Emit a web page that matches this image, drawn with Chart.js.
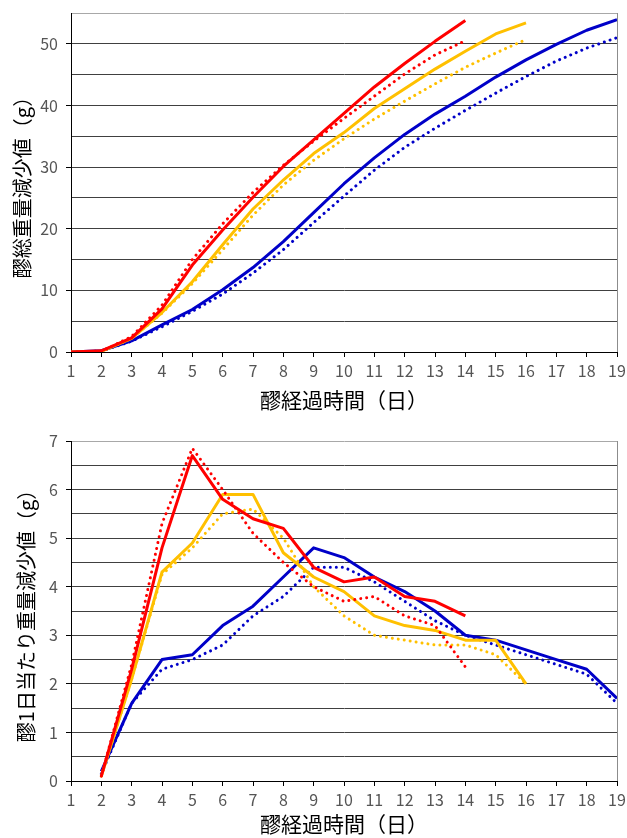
<!DOCTYPE html>
<html>
<head>
<meta charset="utf-8">
<script src="https://cdn.jsdelivr.net/npm/chart.js@4"></script>
<style>
  html, body { margin: 0; padding: 0; background: #fff; }
  #wrap { position: relative; width: 627px; height: 838px; }
  .box { position: absolute; left: 0; width: 627px; }
</style>
</head>
<body>
<div id="wrap">
  <div class="box" style="top:0;height:420px"><canvas id="total"></canvas></div>
  <div class="box" style="top:420px;height:418px"><canvas id="daily"></canvas></div>
</div>
<script>
// Elapsed days of the mash (醪)
const daysRed = [1, 2, 3, 4, 5, 6, 7, 8, 9, 10, 11, 12, 13, 14];
const daysYellow = [1, 2, 3, 4, 5, 6, 7, 8, 9, 10, 11, 12, 13, 14, 15, 16];
const daysBlue = [1, 2, 3, 4, 5, 6, 7, 8, 9, 10, 11, 12, 13, 14, 15, 16, 17, 18, 19];

// Cumulative weight loss (g)
const totalRedSolid = [0, 0.2, 2.3, 7.0, 14.1, 19.8, 25.1, 30.1, 34.4, 38.7, 43.0, 46.8, 50.4, 53.8];
const totalRedDotted = [0, 0.1, 2.5, 7.6, 15.0, 20.8, 25.9, 30.3, 34.2, 37.9, 41.5, 45.1, 48.2, 50.5];
const totalYellowSolid = [0, 0.1, 2.2, 6.4, 11.4, 17.4, 23.2, 27.9, 32.2, 35.6, 39.5, 42.7, 45.9, 48.8, 51.6, 53.4];
const totalYellowDotted = [0, 0.1, 2.2, 6.3, 11.1, 16.6, 22.2, 27.1, 31.1, 34.6, 37.8, 40.7, 43.5, 46.2, 48.5, 50.7];
const totalBlueSolid = [0, 0.2, 1.8, 4.4, 6.9, 10.1, 13.7, 17.9, 22.6, 27.3, 31.5, 35.3, 38.6, 41.5, 44.6, 47.4, 49.9, 52.2, 53.9];
const totalBlueDotted = [0, 0.15, 1.75, 4.1, 6.6, 9.4, 12.8, 16.6, 21.0, 25.3, 29.5, 33.2, 36.3, 39.2, 42.0, 44.7, 47.2, 49.3, 51.0];

// Weight loss per day (g), starting on day 2
const dailyRedSolid = [0.1, 2.3, 4.8, 6.7, 5.8, 5.4, 5.2, 4.4, 4.1, 4.2, 3.8, 3.7, 3.4];
const dailyRedDotted = [0.1, 2.4, 5.3, 6.85, 6.0, 5.1, 4.5, 4.0, 3.7, 3.8, 3.4, 3.2, 2.35];
const dailyYellowSolid = [0.1, 2.1, 4.3, 4.9, 5.9, 5.9, 4.7, 4.2, 3.9, 3.4, 3.2, 3.1, 2.9, 2.9, 2.0];
const dailyYellowDotted = [0.1, 2.1, 4.25, 4.8, 5.5, 5.6, 5.0, 4.0, 3.4, 3.0, 2.9, 2.8, 2.8, 2.6, 2.0];
const dailyBlueSolid = [0.2, 1.6, 2.5, 2.6, 3.2, 3.6, 4.2, 4.8, 4.6, 4.2, 3.9, 3.5, 3.0, 2.9, 2.7, 2.5, 2.3, 1.7];
const dailyBlueDotted = [0.15, 1.6, 2.3, 2.5, 2.8, 3.4, 3.8, 4.4, 4.4, 4.1, 3.7, 3.3, 3.0, 2.8, 2.6, 2.4, 2.2, 1.6];

// Axis labels
const xTitle = '醪経過時間（日）';
const totalTitle = '醪総重量減少値（g）';
const dailyTitle = '醪1日当たり重量減少値（g）';

const RED = '#ff0000';
const YELLOW = '#ffc000';
const BLUE = '#0000c8';

Chart.defaults.font.family = "'Noto Sans CJK JP', 'Noto Sans', sans-serif";
Chart.defaults.animation = false;

function pts(days, vals, offset) {
  return vals.map((v, i) => ({ x: days[i + offset], y: v }));
}

function series(days, vals, offset, color, dotted) {
  return {
    data: pts(days, vals, offset),
    borderColor: color,
    borderWidth: 3,
    borderDash: dotted ? [0.01, 6] : [],
    borderCapStyle: dotted ? 'round' : 'butt',
    borderJoinStyle: 'round',
    pointRadius: 0,
    tension: 0,
    fill: false
  };
}

// Thin grey frame on the right side of the plot area
const frame = {
  id: 'frame',
  afterDraw(chart) {
    const { ctx, chartArea: a } = chart;
    ctx.save();
    ctx.strokeStyle = '#8c8c8c';
    ctx.lineWidth = 1;
    ctx.beginPath();
    ctx.moveTo(Math.round(a.right) + 0.5, a.top);
    ctx.lineTo(Math.round(a.right) + 0.5, a.bottom);
    ctx.stroke();
    ctx.restore();
  }
};

// Let the layout padding alone decide where the plot area sits
function noEdgePadding(s) {
  s.paddingTop = 0; s.paddingBottom = 0; s.paddingLeft = 0; s.paddingRight = 0;
}

function build(id, datasets, o) {
  const isMajor = v => Math.abs(v / o.labelStep - Math.round(v / o.labelStep)) < 1e-9;
  return new Chart(document.getElementById(id), {
    type: 'line',
    data: { datasets },
    plugins: [frame],
    options: {
      responsive: true,
      maintainAspectRatio: false,
      layout: { padding: { left: 0, right: 10, top: o.top, bottom: 0 } },
      plugins: { legend: { display: false }, tooltip: { enabled: false } },
      scales: {
        x: {
          type: 'linear',
          min: 1, max: 19,
          afterFit(s) { s.height = o.xHeight; noEdgePadding(s); },
          ticks: { stepSize: 1, color: '#555', font: { size: 16 }, padding: 4 },
          grid: { drawOnChartArea: false, drawTicks: true, tickLength: 5, color: '#000' },
          border: { color: '#000', width: 1 },
          title: {
            display: true, text: xTitle, color: '#000',
            font: { size: 21, lineHeight: 1.2 }, padding: { top: 0, bottom: o.xTitlePad }
          }
        },
        y: {
          min: 0, max: o.max,
          afterFit(s) { s.width = 71; noEdgePadding(s); },
          ticks: {
            stepSize: o.gridStep, color: '#555', font: { size: 16 }, padding: 8,
            callback: v => isMajor(v) ? String(v) : ''
          },
          grid: {
            tickLength: 5,
            color: c => (c.tick && Math.abs(c.tick.value - o.max) < 1e-9) ? '#a8a8a8' : '#404040',
            tickColor: c => (c.tick && isMajor(c.tick.value)) ? '#000' : 'rgba(0,0,0,0)'
          },
          border: { color: '#000', width: 1 },
          title: {
            display: true, text: o.yTitle, color: '#000',
            font: { size: 20, lineHeight: 1.2 }, padding: { top: o.yTitlePad, bottom: 0 }
          }
        }
      }
    }
  });
}

build('total', [
  series(daysRed, totalRedSolid, 0, RED, false),
  series(daysRed, totalRedDotted, 0, RED, true),
  series(daysYellow, totalYellowSolid, 0, YELLOW, false),
  series(daysYellow, totalYellowDotted, 0, YELLOW, true),
  series(daysBlue, totalBlueSolid, 0, BLUE, false),
  series(daysBlue, totalBlueDotted, 0, BLUE, true)
], { top: 13, max: 55, gridStep: 5, labelStep: 10, xHeight: 68, xTitlePad: 7, yTitle: totalTitle, yTitlePad: 10 });

build('daily', [
  series(daysRed, dailyRedSolid, 1, RED, false),
  series(daysRed, dailyRedDotted, 1, RED, true),
  series(daysYellow, dailyYellowSolid, 1, YELLOW, false),
  series(daysYellow, dailyYellowDotted, 1, YELLOW, true),
  series(daysBlue, dailyBlueSolid, 1, BLUE, false),
  series(daysBlue, dailyBlueDotted, 1, BLUE, true)
], { top: 21, max: 7, gridStep: 0.5, labelStep: 1, xHeight: 57, xTitlePad: 1, yTitle: dailyTitle, yTitlePad: 14 });
</script>
</body>
</html>
